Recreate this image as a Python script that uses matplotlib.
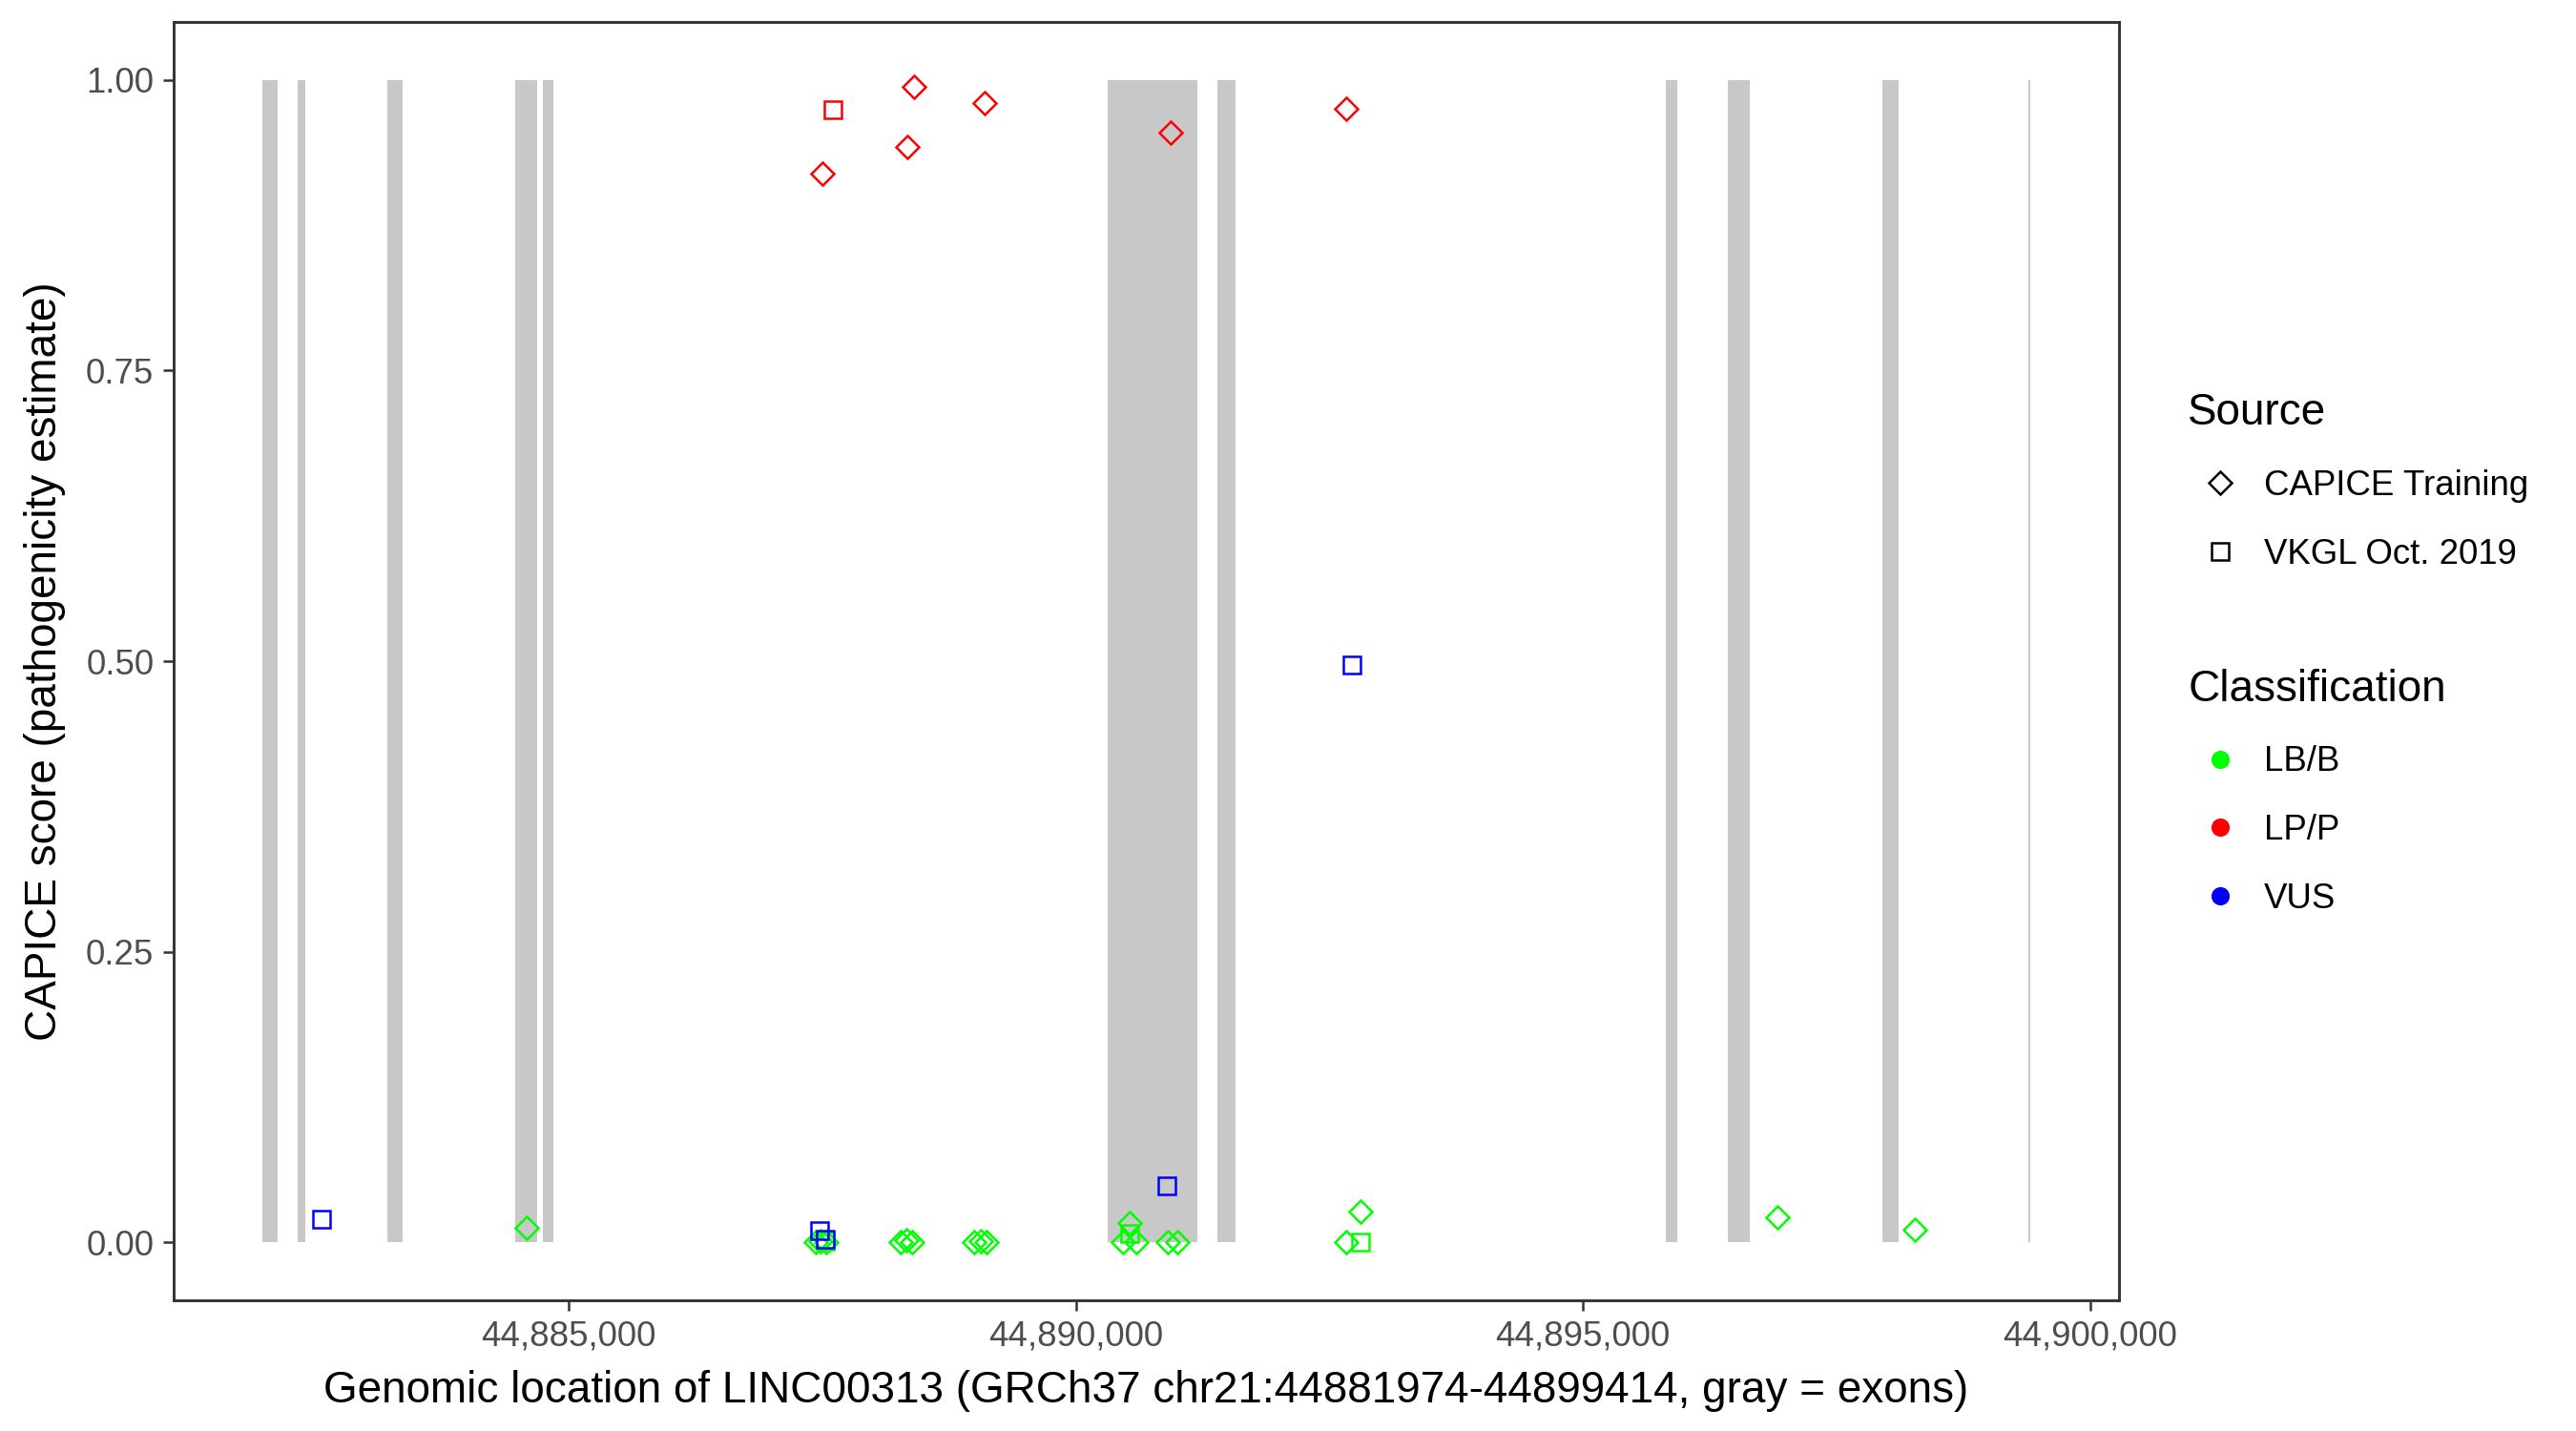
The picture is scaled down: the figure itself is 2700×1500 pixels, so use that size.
import matplotlib
matplotlib.use("Agg")
import matplotlib.pyplot as plt
from matplotlib.lines import Line2D
from matplotlib.ticker import FuncFormatter

plt.rcParams['font.family'] = ['Liberation Sans', 'DejaVu Sans']

# exons of LINC00313 (gray bars)
exon_start = [44881974, 44882325, 44883209, 44884470, 44884743, 44890313,
              44891395, 44895817, 44896429, 44897953, 44899393]
exon_end = [44882128, 44882400, 44883360, 44884687, 44884847, 44891197,
            44891574, 44895930, 44896645, 44898113, 44899414]

# CAPICE training variants (diamonds)
capice_pos = [44887500, 44888337, 44888403, 44889099, 44890934, 44892665,
              44884580, 44887434, 44887481, 44887537, 44888271, 44888328,
              44888384, 44888996, 44889062, 44889118, 44890466, 44890529,
              44890592, 44890908, 44891000, 44892662, 44892806, 44896916,
              44898270]
capice_score = [0.919, 0.942, 0.994, 0.980, 0.955, 0.975,
                0.013, 0.000, 0.001, 0.000, 0.000, 0.002,
                0.000, 0.000, 0.001, 0.000, 0.000, 0.017,
                0.000, 0.000, 0.000, 0.000, 0.027, 0.022,
                0.011]
capice_class = ['LP/P'] * 6 + ['LB/B'] * 19

# VKGL Oct. 2019 variants (squares)
vkgl_pos = [44887530, 44890529, 44892806, 44887603,
            44882560, 44887472, 44887528, 44890896, 44892721]
vkgl_score = [0.001, 0.008, 0.000, 0.974,
              0.020, 0.010, 0.003, 0.049, 0.497]
vkgl_class = ['LB/B', 'LB/B', 'LB/B', 'LP/P',
              'VUS', 'VUS', 'VUS', 'VUS', 'VUS']

classes = ['LB/B', 'LP/P', 'VUS']
class_colors = {'LB/B': '#00FF00', 'LP/P': '#FF0000', 'VUS': '#0000FF'}

fig = plt.figure(figsize=(9, 5), dpi=300)
ax = fig.add_axes([0.0674, 0.0911, 0.7552, 0.8937])

for s, e in zip(exon_start, exon_end):
    ax.axvspan(s, e, ymin=0.05 / 1.1, ymax=1.05 / 1.1, color='#C8C8C8', lw=0, zorder=1)

for pos, score, cls, mk, ms in [(capice_pos, capice_score, capice_class, 'D', 4.0),
                                (vkgl_pos, vkgl_score, vkgl_class, 's', 4.2)]:
    for c in classes:
        xs = [p for p, k in zip(pos, cls) if k == c]
        ys = [v for v, k in zip(score, cls) if k == c]
        if xs:
            ax.plot(xs, ys, linestyle='none', marker=mk, markersize=ms,
                    markerfacecolor='none', markeredgecolor=class_colors[c],
                    markeredgewidth=0.6, zorder=3)

lo, hi = exon_start[0], exon_end[-1]
pad = (hi - lo) * 0.05
ax.set_xlim(lo - pad, hi + pad)
ax.set_ylim(-0.05, 1.05)
ax.set_xticks([44885000, 44890000, 44895000, 44900000])
ax.xaxis.set_major_formatter(FuncFormatter(lambda v, p: f"{int(v):,}"))
ax.set_yticks([0, 0.25, 0.5, 0.75, 1.0])
ax.yaxis.set_major_formatter(FuncFormatter(lambda v, p: f"{v:.2f}"))

for sp in ax.spines.values():
    sp.set_color('#333333')
    sp.set_linewidth(0.7)
ax.tick_params(axis='both', length=2.75, width=0.6, color='#333333',
               labelsize=8.8, labelcolor='#4D4D4D', pad=2.2)

ax.set_xlabel("Genomic location of LINC00313 (GRCh37 chr21:44881974-44899414, gray = exons)",
              fontsize=11, labelpad=4)
ax.set_ylabel("CAPICE score (pathogenicity estimate)", fontsize=11, labelpad=5)

# legends
src_handles = [Line2D([], [], linestyle='none', marker='D', markersize=4.0,
                      markerfacecolor='none', markeredgecolor='black', markeredgewidth=0.6),
               Line2D([], [], linestyle='none', marker='s', markersize=4.2,
                      markerfacecolor='none', markeredgecolor='black', markeredgewidth=0.6)]
src_labels = ['CAPICE Training', 'VKGL Oct. 2019']
cls_handles = [Line2D([], [], linestyle='none', marker='o', markersize=4.6,
                      markerfacecolor=class_colors[c], markeredgecolor='none')
               for c in classes]

common = dict(frameon=False, alignment='left', fontsize=8.8, title_fontsize=11,
              handlelength=1.86, handletextpad=0.32, labelspacing=1.0,
              borderpad=0, loc='upper left')
leg1 = fig.legend(src_handles, src_labels, title='Source',
                  bbox_to_anchor=(0.8426, 0.738), **common)
leg2 = fig.legend(cls_handles, classes, title='Classification',
                  bbox_to_anchor=(0.8426, 0.545), **common)

fig.savefig('out.png', dpi=300)
